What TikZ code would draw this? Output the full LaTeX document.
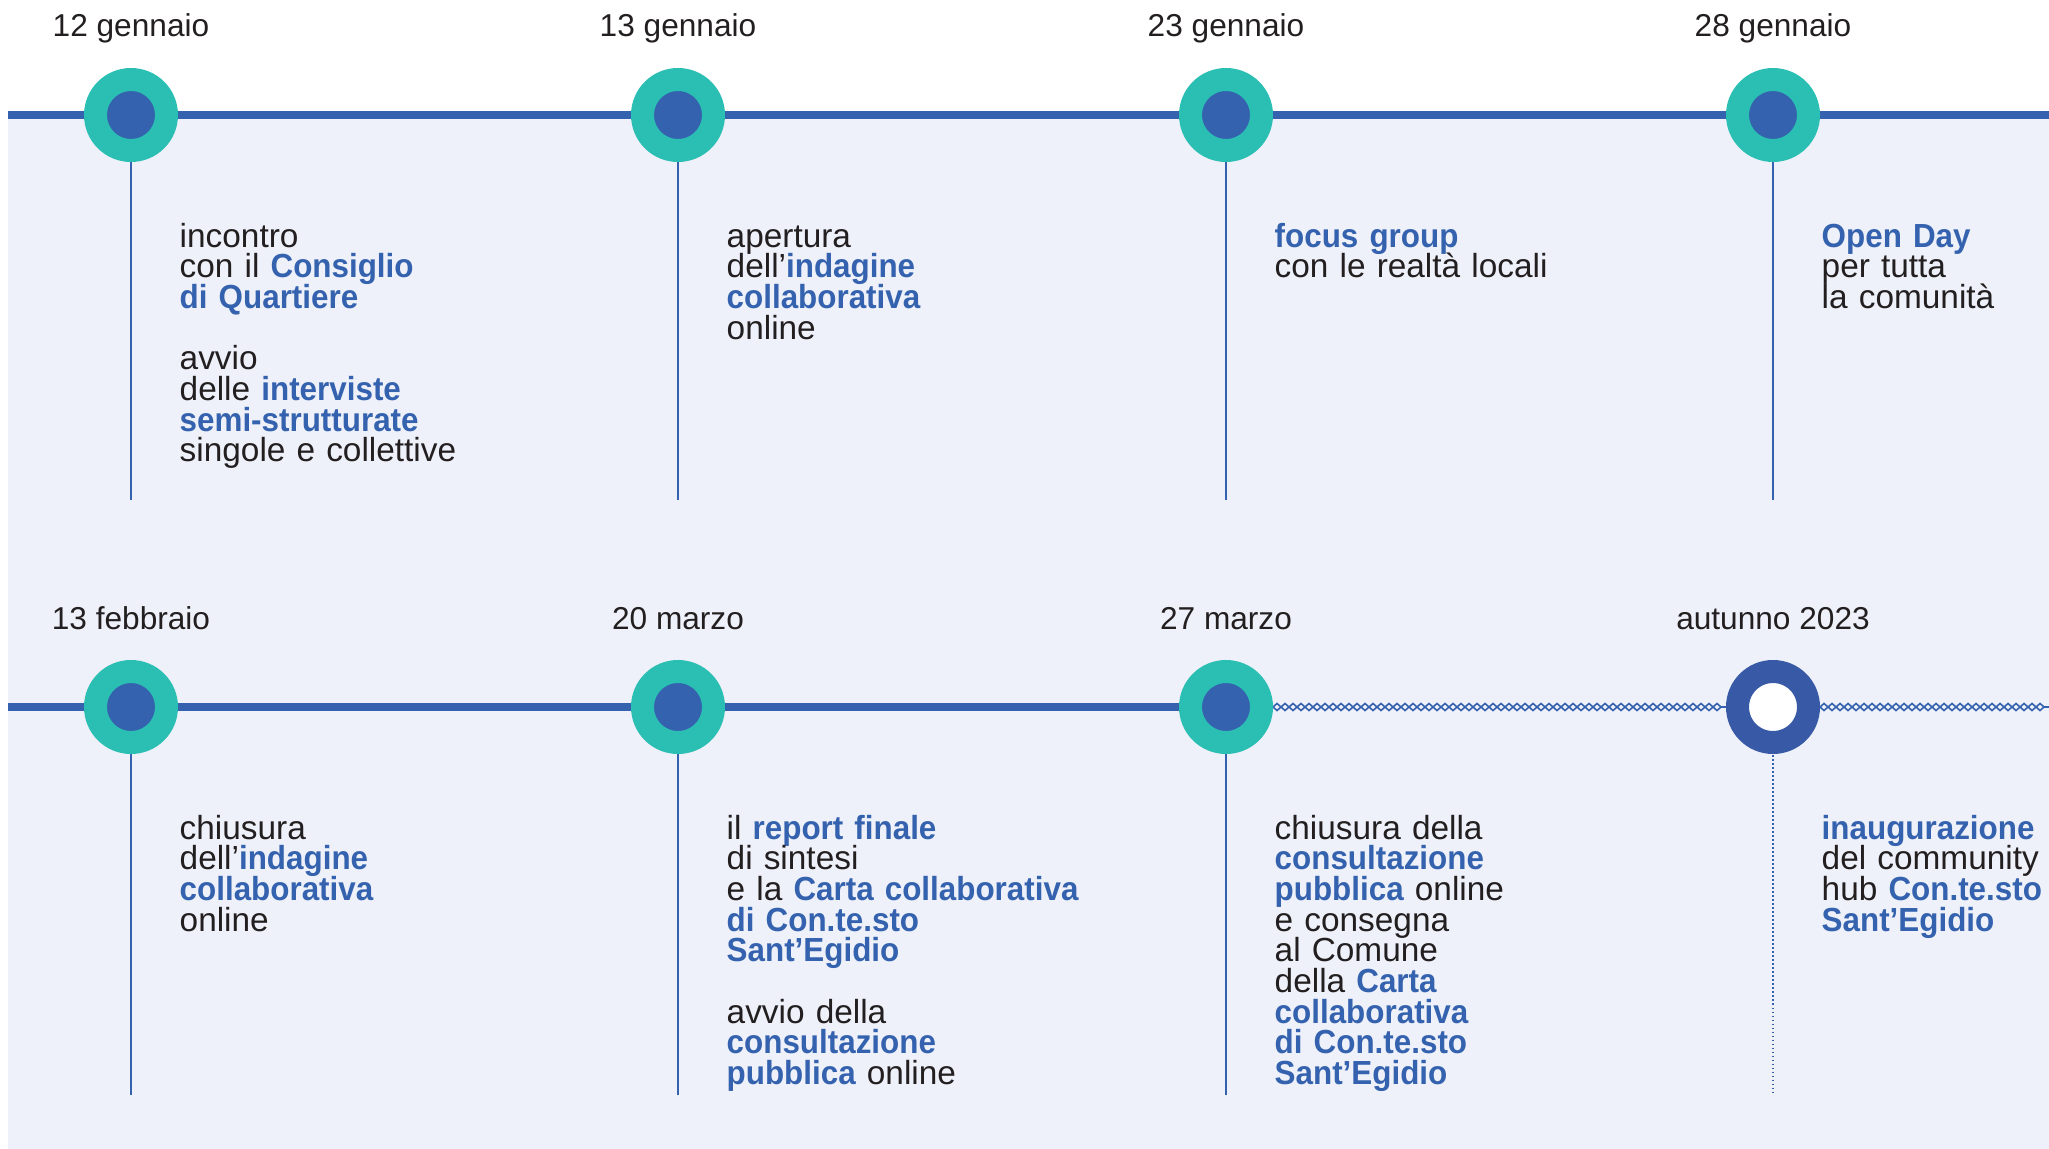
\documentclass[tikz,border=0pt]{standalone}
\usepackage{fontspec}
\setmainfont[BoldFeatures={FakeStretch=0.94}]{Liberation Sans}
\usetikzlibrary{decorations.pathmorphing,backgrounds}

\definecolor{tlblue}{HTML}{3462AE}
\definecolor{tlteal}{HTML}{2BBFB4}
\definecolor{tlback}{HTML}{EEF1F9}
\definecolor{tltext}{HTML}{231F20}
\definecolor{tlring}{HTML}{385AA6}

\newcommand{\hl}[1]{\textbf{\color{tlblue}#1}}
\newcommand{\gap}{\\[8.73pt]}
\newcommand{\evfont}{\fontsize{9.5}{8.73}\selectfont}
\newcommand{\tightlines}{\lineskiplimit=-5pt\lineskip=0pt\relax}

\tikzset{
    milestone/.style={circle, fill=tlblue, draw=tlteal, line width=0.23cm, minimum size=0.71cm, inner sep=0pt},
    future/.style={milestone, fill=white, draw=tlring},
    datelabel/.style={anchor=base, text=tltext, font=\fontsize{9}{10}\selectfont},
    event/.style={anchor=base west, text=tltext, text width=5.2cm, align=left, inner sep=0pt,
        font=\evfont, execute at begin node={\tightlines}},
    stem/.style={draw=tlblue, line width=0.57pt},
    track/.style={draw=tlblue, line width=2pt},
    chain/.style={draw=tlblue, line width=0.45pt, decorate,
        decoration={zigzag, segment length=0.16cm, amplitude=#1}},
}

\begin{document}
\begin{tikzpicture}
    \useasboundingbox (0,0) rectangle (20.49,-11.49);

    % milestones
    \node[milestone] (m1) at (1.31,-1.15) {};
    \node[milestone] (m2) at (6.78,-1.15) {};
    \node[milestone] (m3) at (12.26,-1.15) {};
    \node[milestone] (m4) at (17.73,-1.15) {};
    \node[milestone] (m5) at (1.31,-7.07) {};
    \node[milestone] (m6) at (6.78,-7.07) {};
    \node[milestone] (m7) at (12.26,-7.07) {};
    \node[future] (m8) at (17.73,-7.07) {};

    % dates
    \node[datelabel] (d1) at (1.31,-0.37) {12 gennaio};
    \node[datelabel] (d2) at (6.78,-0.37) {13 gennaio};
    \node[datelabel] (d3) at (12.26,-0.37) {23 gennaio};
    \node[datelabel] (d4) at (17.73,-0.37) {28 gennaio};
    \node[datelabel] (d5) at (1.31,-6.29) {13 febbraio};
    \node[datelabel] (d6) at (6.78,-6.29) {20 marzo};
    \node[datelabel] (d7) at (12.26,-6.29) {27 marzo};
    \node[datelabel] (d8) at (17.73,-6.29) {autunno 2023};

    % events
    \node[event] (t1) at (1.79,-2.47) {incontro\\con il \hl{Consiglio}\\\hl{di Quartiere}\gap
        avvio\\delle \hl{interviste}\\\hl{semi-strutturate}\\singole e collettive};
    \node[event] (t2) at (7.26,-2.47) {apertura\\dell’\hl{indagine}\\\hl{collaborativa}\\online};
    \node[event] (t3) at (12.74,-2.47) {\hl{focus group}\\con le realtà locali};
    \node[event] (t4) at (18.21,-2.47) {\hl{Open Day}\\per tutta\\la comunità};
    \node[event] (t5) at (1.79,-8.39) {chiusura\\dell’\hl{indagine}\\\hl{collaborativa}\\online};
    \node[event] (t6) at (7.26,-8.39) {il \hl{report finale}\\di sintesi\\e la \hl{Carta collaborativa}\\
        \hl{di Con.te.sto}\\\hl{Sant’Egidio}\gap avvio della\\\hl{consultazione}\\\hl{pubblica} online};
    \node[event] (t7) at (12.74,-8.39) {chiusura della\\\hl{consultazione}\\\hl{pubblica} online\\
        e consegna\\al Comune\\della \hl{Carta}\\\hl{collaborativa}\\\hl{di Con.te.sto}\\\hl{Sant’Egidio}};
    \node[event] (t8) at (18.21,-8.39) {\hl{inaugurazione}\\del community\\hub \hl{Con.te.sto}\\\hl{Sant’Egidio}};

    \coordinate (s1) at (0.08,-1.15);
    \coordinate (e1) at (20.49,-1.15);
    \coordinate (s2) at (0.08,-7.07);
    \coordinate (e2) at (20.49,-7.07);
    \coordinate (b1) at (1.31,-5.00);
    \coordinate (b2) at (6.78,-5.00);
    \coordinate (b3) at (12.26,-5.00);
    \coordinate (b4) at (17.73,-5.00);
    \coordinate (b5) at (1.31,-10.95);
    \coordinate (b6) at (6.78,-10.95);
    \coordinate (b7) at (12.26,-10.95);
    \coordinate (b8) at (17.73,-10.95);

    \begin{scope}[on background layer]
        \fill[tlback] (s1) rectangle (20.49,-11.49);
        \draw[track] (s1) -- (m1) -- (m2) -- (m3) -- (m4) -- (e1);
        \draw[track] (s2) -- (m5) -- (m6) -- (m7);
        \draw[chain=0.035cm] (m7.east) -- (m8.west);
        \draw[chain=-0.035cm] (m7.east) -- (m8.west);
        \draw[chain=0.035cm] (m8.east) -- (e2);
        \draw[chain=-0.035cm] (m8.east) -- (e2);
        \draw[stem] (m1.center) -- (b1);
        \draw[stem] (m2.center) -- (b2);
        \draw[stem] (m3.center) -- (b3);
        \draw[stem] (m4.center) -- (b4);
        \draw[stem] (m5.center) -- (b5);
        \draw[stem] (m6.center) -- (b6);
        \draw[stem] (m7.center) -- (b7);
        \draw[stem, line width=0.5pt, dash pattern=on 0.5pt off 0.64pt] (m8.center) -- (b8);
    \end{scope}
\end{tikzpicture}
\end{document}
